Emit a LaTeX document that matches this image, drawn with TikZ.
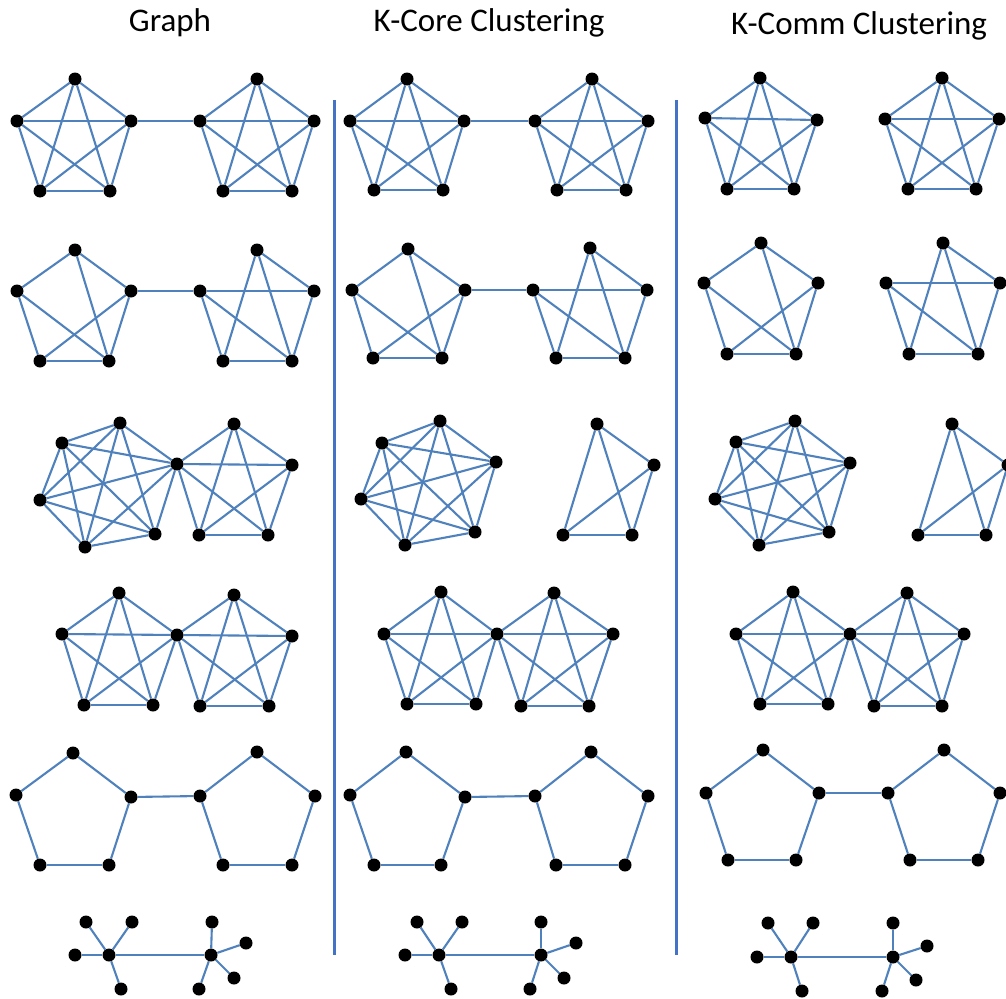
\documentclass[tikz,border=0pt]{standalone}
\usepackage{fontspec}
\setmainfont{Carlito}
\pgfdeclarelayer{bg}
\pgfsetlayers{bg,main}
\tikzset{
  dot/.style={circle,fill=black,inner sep=0pt,minimum size=13pt},
  edge/.style={draw=edgeblue,line width=2.1pt},
  sep/.style={draw=sepblue,line width=3pt},
  ttl/.style={font=\fontsize{33}{36}\selectfont,anchor=base}
}
\definecolor{edgeblue}{HTML}{4F81BD}
\definecolor{sepblue}{HTML}{4472C4}
\newcommand{\V}[3]{\node[dot] (#1) at (#2,#3) {};}
\newcommand{\E}[2]{\draw[edge] (#1) -- (#2);}
\newcommand{\clq}[1]{%
  \foreach \a [count=\i] in {#1}{%
    \foreach \b [count=\j] in {#1}{%
      \ifnum\i<\j \draw[edge] (\a) -- (\b);\fi}}}
% pentagon: prefix, Tx,Ty,Lx,Ly,Rx,Ry,BLx,BLy
\newcommand{\pent}[9]{\V{#1t}{#2}{#3}\V{#1l}{#4}{#5}\V{#1r}{#6}{#7}\V{#1bl}{#8}{#9}}
\begin{document}
\begin{tikzpicture}[x=1pt,y=-1pt]
\useasboundingbox (0,0) rectangle (1006,998);
% titles
\node[ttl] (t1) at (170,32) {Graph};
\node[ttl] (t2) at (489,32) {K-Core Clustering};
\node[ttl] (t3) at (859,35) {K-Comm Clustering};
% separators
\coordinate (s1a) at (334,100); \coordinate (s1b) at (334,955);
\coordinate (s2a) at (676,100); \coordinate (s2b) at (676,955);
\draw[sep] (s1a) -- (s1b);
\draw[sep] (s2a) -- (s2b);

% ================= Row 1 =================
\pent{aA}{75}{79}{17}{121}{131}{121}{40}{191}\V{aAbr}{110}{191}
\pent{aB}{257}{79}{200}{121}{314}{121}{223}{191}\V{aBbr}{292}{191}
\pent{bA}{407}{79}{350}{121}{464}{121}{374}{190}\V{bAbr}{443}{190}
\pent{bB}{592}{79}{535}{121}{648}{121}{557}{190}\V{bBbr}{626}{190}
\pent{cA}{760}{78}{705}{118}{817}{120}{727}{189}\V{cAbr}{794}{189}
\pent{cB}{942}{78}{885}{119}{999}{119}{908}{189}\V{cBbr}{976}{189}
\begin{pgfonlayer}{bg}
\clq{aAt,aAl,aAr,aAbl,aAbr}\clq{aBt,aBl,aBr,aBbl,aBbr}\E{aAr}{aBl}
\clq{bAt,bAl,bAr,bAbl,bAbr}\clq{bBt,bBl,bBr,bBbl,bBbr}\E{bAr}{bBl}
\clq{cAt,cAl,cAr,cAbl,cAbr}\clq{cBt,cBl,cBr,cBbl,cBbr}
\end{pgfonlayer}

% ================= Row 2 =================
\pent{dA}{75}{250}{17}{291}{131}{291}{40}{361}\V{dAbr}{109}{361}
\pent{dB}{257}{250}{200}{291}{314}{291}{223}{361}\V{dBbr}{292}{361}
\pent{eA}{408}{249}{352}{290}{465}{290}{373}{358}\V{eAbr}{442}{358}
\pent{eB}{590}{248}{533}{290}{647}{290}{556}{358}\V{eBbr}{625}{358}
\pent{fA}{761}{243}{704}{283}{818}{283}{727}{354}\V{fAbr}{796}{354}
\pent{fB}{943}{243}{886}{283}{1000}{283}{909}{354}\V{fBbr}{978}{354}
\begin{pgfonlayer}{bg}
\foreach \p in {dA,eA,fA}{%
  \E{\p t}{\p l}\E{\p t}{\p r}\E{\p t}{\p br}\E{\p l}{\p bl}\E{\p l}{\p br}
  \E{\p r}{\p bl}\E{\p r}{\p br}\E{\p bl}{\p br}}
\foreach \p in {dB,eB,fB}{%
  \E{\p t}{\p r}\E{\p t}{\p bl}\E{\p t}{\p br}\E{\p l}{\p r}\E{\p l}{\p bl}
  \E{\p l}{\p br}\E{\p r}{\p br}\E{\p bl}{\p br}}
\E{dAr}{dBl}\E{eAr}{eBl}
\end{pgfonlayer}

% ================= Row 3 =================
\V{gA}{120}{423}\V{gB}{62}{443}\V{gC}{40}{500}\V{gD}{85}{547}\V{gE}{155}{534}\V{gS}{177}{464}
\V{gT}{234}{424}\V{gR}{292}{465}\V{gBL}{199}{535}\V{gBR}{268}{535}
\V{hA}{440}{421}\V{hB}{382}{443}\V{hC}{361}{499}\V{hD}{405}{545}\V{hE}{475}{532}\V{hS}{496}{462}
\V{hT}{597}{424}\V{hR}{654}{465}\V{hBL}{563}{535}\V{hBR}{632}{535}
\V{iA}{795}{421}\V{iB}{736}{442}\V{iC}{715}{499}\V{iD}{759}{545}\V{iE}{829}{532}\V{iS}{850}{463}
\V{iT}{952}{424}\V{iR}{1008}{465}\V{iBL}{918}{535}\V{iBR}{986}{535}
\begin{pgfonlayer}{bg}
\clq{gA,gB,gC,gD,gE,gS}\clq{gS,gT,gR,gBL,gBR}
\clq{hA,hB,hC,hD,hE,hS}\clq{hT,hR,hBL,hBR}
\clq{iA,iB,iC,iD,iE,iS}\clq{iT,iR,iBL,iBR}
\end{pgfonlayer}

% ================= Row 4 =================
\V{jT}{119}{593}\V{jL}{62}{634}\V{jS}{177}{635}\V{jBL}{84}{705}\V{jBR}{153}{705}
\V{jT2}{234}{595}\V{jR2}{292}{636}\V{jBL2}{200}{706}\V{jBR2}{269}{706}
\V{kT}{441}{592}\V{kL}{384}{634}\V{kS}{497}{634}\V{kBL}{407}{704}\V{kBR}{476}{704}
\V{kT2}{554}{593}\V{kR2}{613}{634}\V{kBL2}{521}{706}\V{kBR2}{589}{706}
\V{lT}{793}{592}\V{lL}{736}{634}\V{lS}{850}{634}\V{lBL}{760}{704}\V{lBR}{828}{704}
\V{lT2}{907}{593}\V{lR2}{964}{634}\V{lBL2}{874}{706}\V{lBR2}{942}{706}
\begin{pgfonlayer}{bg}
\clq{jT,jL,jS,jBL,jBR}\clq{jS,jT2,jR2,jBL2,jBR2}
\clq{kT,kL,kS,kBL,kBR}\clq{kS,kT2,kR2,kBL2,kBR2}
\clq{lT,lL,lS,lBL,lBR}\clq{lS,lT2,lR2,lBL2,lBR2}
\end{pgfonlayer}

% ================= Row 5 =================
\pent{mA}{73}{753}{16}{795}{131}{797}{40}{865}\V{mAbr}{109}{865}
\pent{mB}{257}{752}{200}{796}{315}{796}{223}{865}\V{mBbr}{292}{865}
\pent{nA}{406}{752}{350}{795}{465}{797}{374}{865}\V{nAbr}{441}{865}
\pent{nB}{591}{752}{535}{796}{648}{796}{556}{865}\V{nBbr}{625}{865}
\pent{oA}{763}{750}{706}{793}{819}{793}{728}{860}\V{oAbr}{796}{860}
\pent{oB}{944}{750}{888}{793}{1000}{793}{910}{860}\V{oBbr}{978}{860}
\begin{pgfonlayer}{bg}
\foreach \p in {mA,mB,nA,nB,oA,oB}{%
  \E{\p t}{\p l}\E{\p t}{\p r}\E{\p l}{\p bl}\E{\p r}{\p br}\E{\p bl}{\p br}}
\E{mAr}{mBl}\E{nAr}{nBl}\E{oAr}{oBl}
\end{pgfonlayer}

% ================= Row 6 =================
\V{pH}{109}{955}\V{p1}{86}{922}\V{p2}{132}{922}\V{p3}{75}{955}\V{p4}{121}{989}
\V{pK}{211}{955}\V{p5}{212}{922}\V{p6}{246}{943}\V{p7}{234}{978}\V{p8}{199}{989}
\V{qH}{439}{955}\V{q1}{417}{922}\V{q2}{462}{922}\V{q3}{405}{955}\V{q4}{451}{989}
\V{qK}{541}{955}\V{q5}{541}{922}\V{q6}{576}{943}\V{q7}{564}{978}\V{q8}{530}{989}
\V{rH}{791}{957}\V{r1}{768}{923}\V{r2}{813}{923}\V{r3}{757}{957}\V{r4}{802}{991}
\V{rK}{893}{957}\V{r5}{893}{923}\V{r6}{927}{946}\V{r7}{916}{980}\V{r8}{882}{991}
\begin{pgfonlayer}{bg}
\foreach \p in {p,q,r}{%
  \E{\p H}{\p 1}\E{\p H}{\p 2}\E{\p H}{\p 3}\E{\p H}{\p 4}\E{\p H}{\p K}
  \E{\p K}{\p 5}\E{\p K}{\p 6}\E{\p K}{\p 7}\E{\p K}{\p 8}}
\end{pgfonlayer}
\end{tikzpicture}
\end{document}
